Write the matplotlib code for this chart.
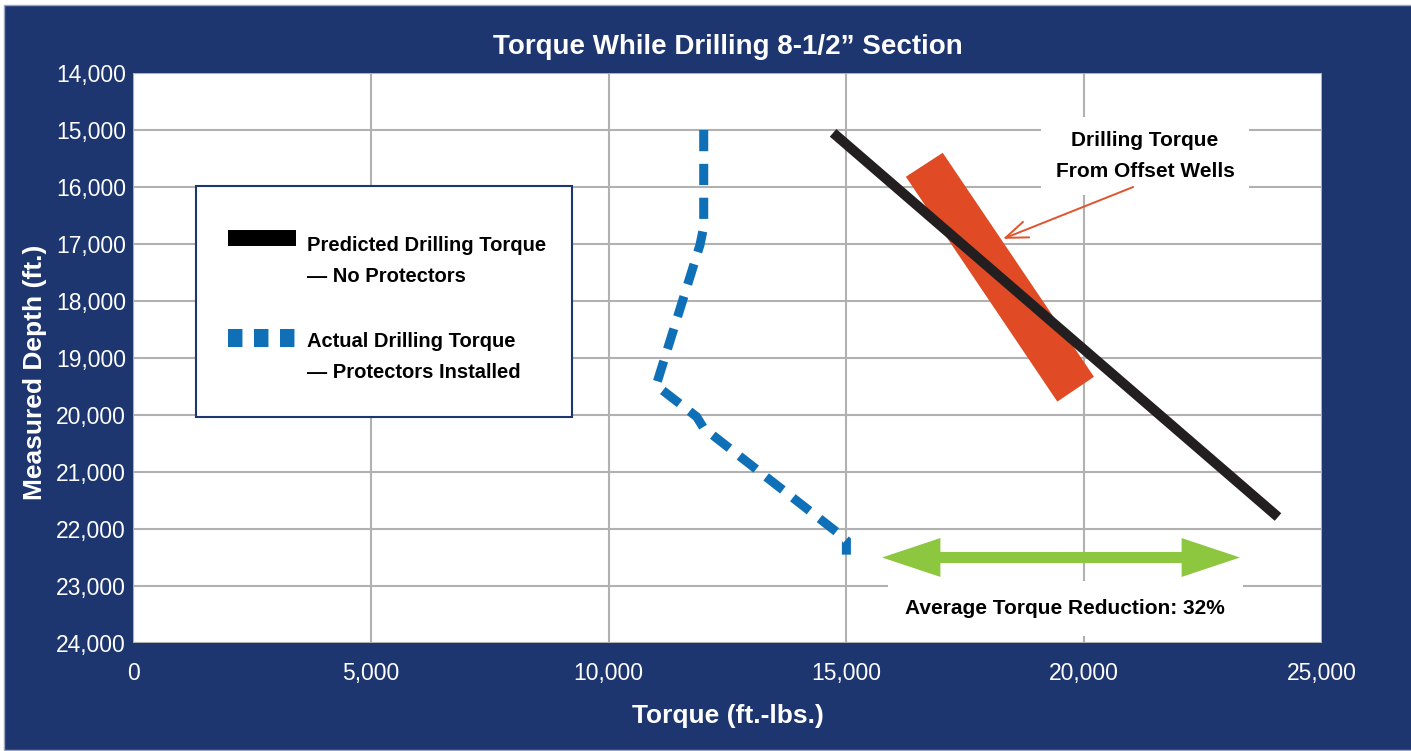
import matplotlib
matplotlib.use('Agg')
import matplotlib.pyplot as plt
from matplotlib.patches import Rectangle, Polygon

# predicted torque, no protectors (straight line)
predicted_torque = [14720, 24075]
predicted_depth = [15050, 21790]

# actual torque with protectors installed
actual_torque = [12000, 12000, 11920, 11000, 11850, 12000, 14830, 15000, 15000]
actual_depth = [15000, 16700, 17020, 19480, 20030, 20230, 22075, 22200, 22450]

# band of drilling torque from offset wells (corners)
offset_torque = [16250, 17025, 20205, 19435]
offset_depth = [15820, 15400, 19330, 19765]

# average reduction arrow
reduction_torque = [15750, 23275]
reduction_depth = 22500

torque_ticks = [0, 5000, 10000, 15000, 20000, 25000]
torque_labels = ['0', '5,000', '10,000', '15,000', '20,000', '25,000']
depth_ticks = [14000, 15000, 16000, 17000, 18000, 19000, 20000, 21000, 22000, 23000, 24000]
depth_labels = ['14,000', '15,000', '16,000', '17,000', '18,000', '19,000',
                '20,000', '21,000', '22,000', '23,000', '24,000']

NAVY = '#1e3670'
BLUE = '#0f70b7'
ORANGE = '#e04a25'
GREEN = '#8dc63f'

plt.rcParams['font.family'] = ['Liberation Sans', 'DejaVu Sans']

W, H = 1411, 751
fig = plt.figure(figsize=(W / 100, H / 100), dpi=100)
fig.patch.set_facecolor('white')
fig.add_artist(Rectangle((4 / W, 1 / H), 1, 1 - 6 / H, transform=fig.transFigure,
                         facecolor=NAVY, edgecolor='#9aa6bf', lw=1, zorder=-5))

ax = fig.add_axes([133 / W, 1 - 643 / H, 1189 / W, 570 / H])
ax.set_facecolor('white')
ax.set_xlim(0, 25000)
ax.set_ylim(24000, 14000)
ax.set_xticks(torque_ticks)
ax.set_xticklabels(torque_labels)
ax.set_yticks(depth_ticks)
ax.set_yticklabels(depth_labels)
ax.tick_params(axis='both', length=0, colors='white', labelsize=16.5)
ax.tick_params(axis='x', pad=14)
ax.tick_params(axis='y', pad=5)
for s in ax.spines.values():
    s.set_visible(False)
ax.grid(color='#b1b1b1', lw=1.5)
ax.set_axisbelow(True)

# offset wells band
ax.add_patch(Polygon(list(zip(offset_torque, offset_depth)), closed=True,
                     facecolor=ORANGE, edgecolor='none', zorder=2))

ax.plot(predicted_torque, predicted_depth, color='#231f20', lw=7.2,
        solid_capstyle='butt', zorder=3)
ax.plot(actual_torque, actual_depth, color=BLUE, lw=6.5, dashes=(2.35, 1.4),
        dash_capstyle='butt', dash_joinstyle='miter', zorder=3)

# offset wells label and pointer
ax.text(21280, 15820, 'Drilling Torque\nFrom Offset Wells', ha='center', va='baseline',
        multialignment='center', linespacing=1.75, fontsize=15, fontweight='bold',
        color='black', zorder=5,
        bbox=dict(boxstyle='square,pad=0.7', facecolor='white', edgecolor='none'))
ax.annotate('', xy=(18290, 16910), xytext=(21030, 16000),
            arrowprops=dict(arrowstyle='->,head_length=0.8,head_width=0.3',
                            color='#e0532d', lw=1.4, shrinkA=0, shrinkB=0,
                            mutation_scale=20), zorder=5)

# reduction arrow (two halves from the middle)
mid = (reduction_torque[0] + reduction_torque[1]) / 2
for end in reduction_torque:
    ax.annotate('', xy=(end, reduction_depth), xytext=(mid, reduction_depth),
                arrowprops=dict(arrowstyle='simple,head_length=4.2,head_width=2.8,tail_width=0.8',
                                facecolor=GREEN, edgecolor='none', lw=0,
                                shrinkA=0, shrinkB=0, mutation_scale=10), zorder=4)
ax.text(19600, 23490, 'Average Torque Reduction: 32%', ha='center', va='baseline',
        fontsize=15, fontweight='bold', color='black', zorder=5,
        bbox=dict(boxstyle='square,pad=0.85', facecolor='white', edgecolor='none'))

# legend box drawn by hand
ax.add_patch(Rectangle((0.053, 0.3965), 0.316, 0.4053, transform=ax.transAxes,
                       facecolor='white', edgecolor=NAVY, lw=1.5, zorder=6))
ax.plot([0.0799, 0.1371], [0.7105, 0.7105], transform=ax.transAxes, color='black',
        lw=11.5, solid_capstyle='butt', zorder=7, clip_on=False)
ax.plot([0.0799, 0.1363], [0.5351, 0.5351], transform=ax.transAxes, color=BLUE,
        lw=13, dashes=(0.8, 0.64), dash_capstyle='butt', zorder=7, clip_on=False)
legend_lines = [('Predicted Drilling Torque', 0.6877), ('\u2014 No Protectors', 0.6333),
                ('Actual Drilling Torque', 0.5193), ('\u2014 Protectors Installed', 0.4649)]
for txt, yy in legend_lines:
    ax.text(0.1463, yy, txt, transform=ax.transAxes, ha='left', va='baseline',
            fontsize=14.5, fontweight='bold', color='black', zorder=7)

fig.text(727.5 / W, 1 - 54 / H, 'Torque While Drilling 8-1/2\u201d Section', ha='center',
         va='baseline', color='white', fontsize=20, fontweight='bold')
fig.text(727.5 / W, 1 - 723 / H, 'Torque (ft.-lbs.)', ha='center', va='baseline',
         color='white', fontsize=19, fontweight='bold')
fig.text(35 / W, 1 - 372 / H, 'Measured Depth (ft.)', ha='center', va='center',
         rotation=90, color='white', fontsize=19, fontweight='bold')

fig.savefig('out.png', dpi=100, facecolor=fig.get_facecolor())
